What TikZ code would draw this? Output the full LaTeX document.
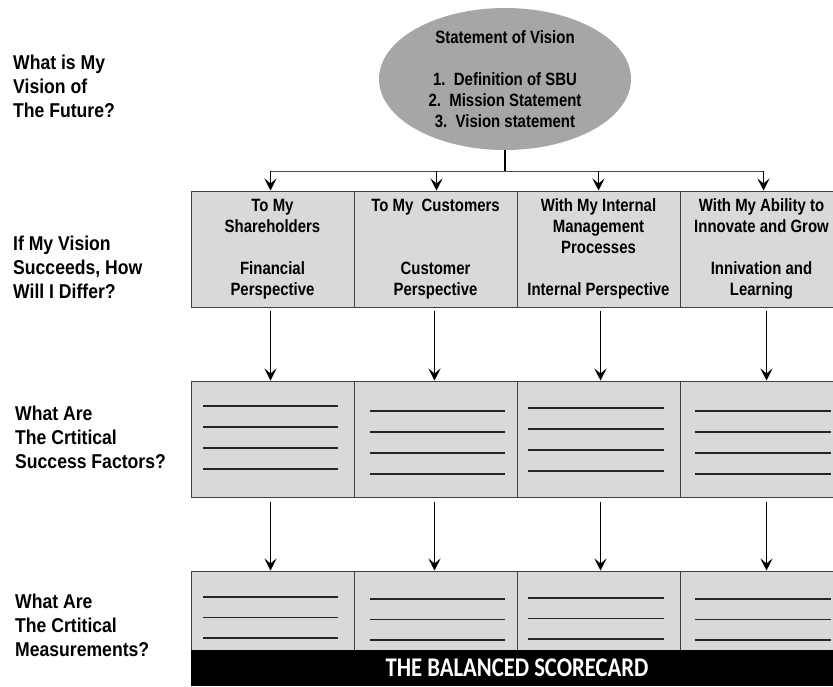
\documentclass[tikz,border=0pt]{standalone}
\usepackage{fontspec}
\setmainfont{Liberation Sans}
\newfontfamily\condf[FakeStretch=0.84]{Liberation Sans}
\newfontfamily\labf[FakeStretch=0.88]{Liberation Sans}
\newfontfamily\barf[FakeStretch=0.84]{Carlito}
\usetikzlibrary{shapes.geometric,arrows.meta}
\begin{document}
\begin{tikzpicture}[x=1pt,y=-1pt,
  lab/.style={anchor=west, align=left, inner sep=0pt, font=\labf\bfseries\fontsize{20}{24}\selectfont},
  ell/.style={ellipse, fill=black!35, minimum width=252pt, minimum height=142pt, inner sep=0pt, align=center, font=\condf\bfseries\fontsize{17.8}{21}\selectfont},
  cell/.style={draw=black!75, line width=1pt, fill=black!15, minimum width=163pt, inner sep=0pt, align=center, font=\condf\bfseries\fontsize{17.8}{21}\selectfont},
  toprow/.style={cell, minimum height=116pt},
  midrow/.style={cell, minimum height=116pt},
  lowrow/.style={cell, minimum height=79pt},
  bar/.style={fill=black, text=white, minimum width=652pt, minimum height=36pt, inner sep=0pt, font=\barf\bfseries\fontsize{27}{30}\selectfont},
  arr/.style={-{Stealth[length=12pt,width=12pt,inset=5pt]}, line width=0.9pt, black},
  bus/.style={line width=1pt, black!70},
  stem/.style={line width=1.6pt, black},
  rule/.style={line width=1.8pt, black!85}
]
\clip (0,0) rectangle (833,686);
\fill[white] (0,0) rectangle (833,686);

% left questions
\node[lab] (q1) at (13,86) {What is My\\Vision of\\The Future?};
\node[lab] (q2) at (13,267) {If My Vision\\Succeeds, How\\Will I Differ?};
\node[lab] (q3) at (15,437) {What Are\\The Crtitical\\Success Factors?};
\node[lab] (q4) at (15,625) {What Are\\The Crtitical\\Measurements?};

% vision ellipse
\node[ell] (ell) at (505,79) {Statement of Vision\\\mbox{}\\1.\ \ Definition of SBU\\2.\ \ Mission Statement\\3.\ \ Vision statement};

% top row
\node[toprow] (b1) at (272.5,249) {To My\\Shareholders\\\mbox{}\\Financial\\Perspective};
\node[toprow] (b2) at (435.5,249) {To My\ \ Customers\\\mbox{}\\\mbox{}\\Customer\\Perspective};
\node[toprow] (b3) at (598.5,249) {With My Internal\\Management\\Processes\\\mbox{}\\Internal Perspective};
\node[toprow] (b4) at (761.5,249) {With My Ability to\\Innovate and Grow\\\mbox{}\\Innivation and\\Learning};

% middle row
\node[midrow] (m1) at (272.5,439) {};
\node[midrow] (m2) at (435.5,439) {};
\node[midrow] (m3) at (598.5,439) {};
\node[midrow] (m4) at (761.5,439) {};

% lower row
\node[lowrow] (s1) at (272.5,610.5) {};
\node[lowrow] (s2) at (435.5,610.5) {};
\node[lowrow] (s3) at (598.5,610.5) {};
\node[lowrow] (s4) at (761.5,610.5) {};

% balanced scorecard bar
\node[bar] (bar) at (517,668) {THE BALANCED SCORECARD};

% rule lines
\foreach \xa/\xb/\ya/\yb in {203/338/406/597, 370/505/411/599, 528/664/408/598, 695/831/411/599} {
  \foreach \k in {0,1,2,3} \draw[rule] (\xa,\ya+21*\k) -- (\xb,\ya+21*\k);
  \foreach \k in {0,1,2} \draw[rule] (\xa,\yb+20.5*\k) -- (\xb,\yb+20.5*\k);
}

% connectors from vision
\coordinate (j) at (505,171);
\draw[stem] (ell.south) -- (j);
\draw[bus] ([xshift=-2pt]b1.north |- j) -- ([xshift=2pt]b4.north |- j);
\foreach \i/\dx in {1/-2,2/1,3/0,4/2}
  \draw[arr] ([xshift=\dx pt]b\i.north |- j) -- ([xshift=\dx pt]b\i.north);

% row connectors
\foreach \i/\dx in {1/-2,2/-1,3/2,4/5} {
  \draw[arr] ([xshift=\dx pt, yshift=-3pt]b\i.south) -- ([xshift=\dx pt]m\i.north);
  \draw[arr] ([xshift=\dx pt, yshift=-4pt]m\i.south) -- ([xshift=\dx pt]s\i.north);
}
\end{tikzpicture}
\end{document}
